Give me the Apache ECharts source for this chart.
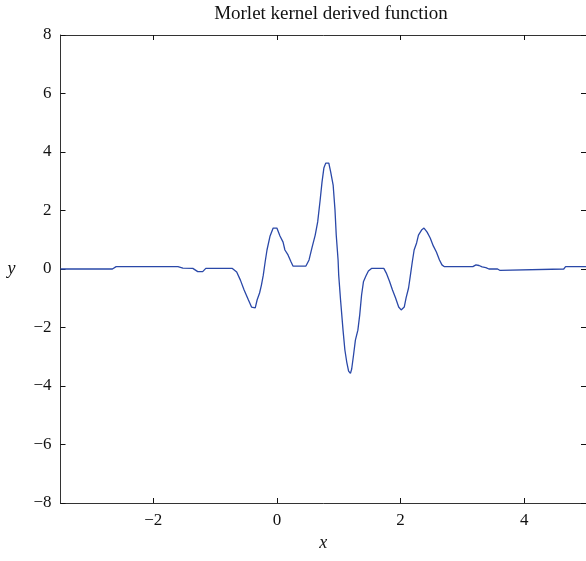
<!DOCTYPE html>
<html>
<head>
<meta charset="utf-8">
<script src="https://cdn.jsdelivr.net/npm/echarts@6/dist/echarts.min.js"></script>
<style>
html,body{margin:0;padding:0;background:#fff;}
#chart{width:586px;height:561px;}
</style>
</head>
<body>
<div id="chart"></div>
<script>
var titleText = 'Morlet kernel derived function';
var xTicks = [-2, 0, 2, 4];
var yTicks = [-8, -6, -4, -2, 0, 2, 4, 6, 8];
var xs = [-3.5, -2.66, -2.60, -1.60, -1.52, -1.36, -1.28, -1.20, -1.15, -0.72,
  -0.65, -0.59, -0.53, -0.46, -0.41, -0.38, -0.35, -0.32, -0.28, -0.25,
  -0.22, -0.19, -0.16, -0.11, -0.06, -0.03, 0.00, 0.05, 0.10, 0.13,
  0.18, 0.23, 0.26, 0.47, 0.52, 0.57, 0.62, 0.66, 0.70, 0.73,
  0.76, 0.79, 0.84, 0.87, 0.91, 0.94, 0.96, 0.99, 1.00, 1.03,
  1.07, 1.10, 1.13, 1.16, 1.19, 1.21, 1.24, 1.27, 1.31, 1.34,
  1.37, 1.40, 1.44, 1.48, 1.53, 1.73, 1.77, 1.82, 1.87, 1.92,
  1.97, 2.01, 2.06, 2.09, 2.13, 2.16, 2.19, 2.22, 2.26, 2.29,
  2.34, 2.38, 2.43, 2.48, 2.53, 2.58, 2.63, 2.67, 2.71, 3.17,
  3.22, 3.27, 3.32, 3.38, 3.43, 3.57, 3.61, 3.64, 4.64, 4.67, 5.0];
var ys = [0, 0, 0.08, 0.08, 0.03, 0.02, -0.09, -0.09, 0.02, 0.02,
  -0.1, -0.38, -0.72, -1.06, -1.30, -1.35, -1.33, -1.06, -0.82, -0.55,
  -0.21, 0.24, 0.65, 1.13, 1.40, 1.45, 1.40, 1.13, 0.92, 0.65,
  0.48, 0.24, 0.10, 0.10, 0.31, 0.75, 1.16, 1.61, 2.36, 2.97,
  3.45, 3.62, 3.62, 3.32, 2.87, 2.02, 1.16, 0.31, -0.21, -1.06,
  -2.09, -2.77, -3.18, -3.49, -3.57, -3.42, -2.94, -2.43, -2.09, -1.57,
  -0.89, -0.44, -0.24, -0.07, 0.02, 0.02, -0.14, -0.41, -0.72, -0.99,
  -1.30, -1.40, -1.30, -0.99, -0.65, -0.21, 0.24, 0.65, 0.89, 1.16,
  1.33, 1.40, 1.26, 1.06, 0.79, 0.58, 0.31, 0.14, 0.08, 0.08,
  0.14, 0.12, 0.07, 0.05, 0, 0, -0.05, 0, 0, 0.08, 0.08];

var data = xs.map(function (x, i) { return [x, ys[i]]; });
var fmt = function (v) { return String(v).replace('-', '\u2212'); };
var font = 'Liberation Serif';
var axisCol = '#333';

var chart = echarts.init(document.getElementById('chart'), null, {renderer: 'canvas'});
chart.setOption({
  animation: false,
  backgroundColor: '#fff',
  title: {
    text: titleText, left: 326, top: 0, textAlign: 'center',
    textStyle: {fontFamily: font, fontSize: 19, fontWeight: 'normal', color: '#111'}
  },
  grid: {left: 60.5, right: -3, top: 35, bottom: 58, containLabel: false},
  xAxis: [{
    type: 'value', min: -3.5, max: 5, position: 'bottom',
    name: 'x', nameLocation: 'middle', nameGap: 31,
    nameTextStyle: {fontFamily: font, fontSize: 18, fontStyle: 'italic', color: '#111'},
    axisLine: {show: true, onZero: false, lineStyle: {color: axisCol, width: 1}},
    axisTick: {show: true, inside: true, length: 5, customValues: xTicks, lineStyle: {color: '#111'}},
    axisLabel: {customValues: xTicks, formatter: fmt, fontFamily: font, fontSize: 17, color: '#111', margin: 9},
    splitLine: {show: false}
  }, {
    type: 'value', min: -3.5, max: 5, position: 'top',
    axisLine: {show: true, onZero: false, lineStyle: {color: axisCol, width: 1}},
    axisTick: {show: true, inside: true, length: 5, customValues: xTicks, lineStyle: {color: '#111'}},
    axisLabel: {show: false},
    splitLine: {show: false}
  }],
  yAxis: [{
    type: 'value', min: -8, max: 8, interval: 2, position: 'left',
    name: 'y', nameLocation: 'middle', nameGap: 45, nameRotate: 0,
    nameTextStyle: {fontFamily: font, fontSize: 18, fontStyle: 'italic', color: '#111'},
    axisLine: {show: true, onZero: false, lineStyle: {color: axisCol, width: 1}},
    axisTick: {show: true, inside: true, length: 5, lineStyle: {color: '#111'}},
    axisLabel: {formatter: fmt, fontFamily: font, fontSize: 17, color: '#111', margin: 9},
    splitLine: {show: false}
  }, {
    type: 'value', min: -8, max: 8, interval: 2, position: 'right',
    axisLine: {show: true, onZero: false, lineStyle: {color: axisCol, width: 1}},
    axisTick: {show: true, inside: true, length: 5, lineStyle: {color: '#111'}},
    axisLabel: {show: false},
    splitLine: {show: false}
  }],
  series: [{
    type: 'line', data: data, showSymbol: false, symbol: 'none',
    lineStyle: {color: '#2a48a8', width: 1.3},
    xAxisIndex: 0, yAxisIndex: 0
  }]
});
</script>
</body>
</html>
